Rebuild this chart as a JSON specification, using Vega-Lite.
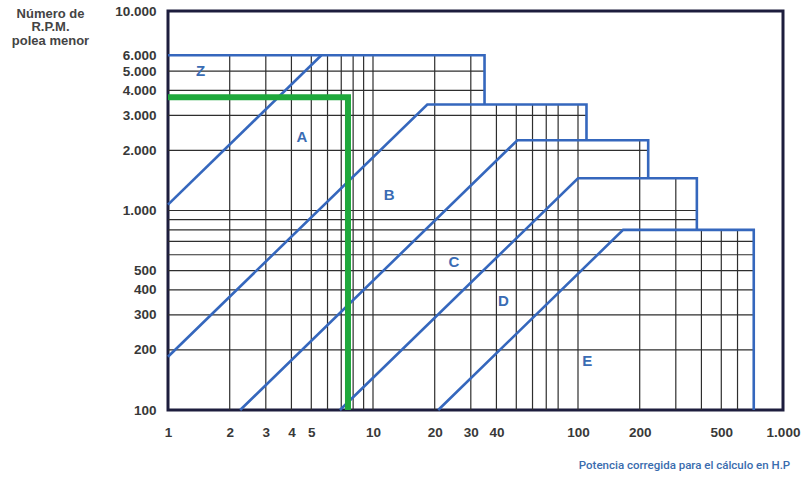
{
  "$schema": "https://vega.github.io/schema/vega-lite/v6.json",
  "width": 615,
  "height": 399,
  "autosize": {"type": "none"},
  "padding": {"left": 168, "top": 11, "right": 23, "bottom": 67},
  "background": "white",
  "config": {
    "view": {"stroke": "#1d1d3d", "strokeWidth": 3},
    "axis": {
      "domain": false,
      "ticks": false,
      "grid": false,
      "labelFont": "Liberation Sans",
      "labelFontWeight": "bold",
      "labelFontSize": 13.5,
      "labelColor": "#383838",
      "labelExpr": "replace(format(datum.value, ','), ',', '.')"
    }
  },
  "datasets": {
    "grid": [
      {"x": 2, "x2": 2, "y": 100, "y2": 6000},
      {"x": 3, "x2": 3, "y": 100, "y2": 6000},
      {"x": 4, "x2": 4, "y": 100, "y2": 6000},
      {"x": 5, "x2": 5, "y": 100, "y2": 6000},
      {"x": 6, "x2": 6, "y": 100, "y2": 6000},
      {"x": 7, "x2": 7, "y": 100, "y2": 6000},
      {"x": 8, "x2": 8, "y": 100, "y2": 6000},
      {"x": 9, "x2": 9, "y": 100, "y2": 6000},
      {"x": 10, "x2": 10, "y": 100, "y2": 6000},
      {"x": 20, "x2": 20, "y": 100, "y2": 6000},
      {"x": 30, "x2": 30, "y": 100, "y2": 6000},
      {"x": 40, "x2": 40, "y": 100, "y2": 3400},
      {"x": 50, "x2": 50, "y": 100, "y2": 3400},
      {"x": 60, "x2": 60, "y": 100, "y2": 3400},
      {"x": 70, "x2": 70, "y": 100, "y2": 3400},
      {"x": 80, "x2": 80, "y": 100, "y2": 3400},
      {"x": 100, "x2": 100, "y": 100, "y2": 3400},
      {"x": 200, "x2": 200, "y": 100, "y2": 2250},
      {"x": 300, "x2": 300, "y": 100, "y2": 1450},
      {"x": 400, "x2": 400, "y": 100, "y2": 800},
      {"x": 500, "x2": 500, "y": 100, "y2": 800},
      {"x": 600, "x2": 600, "y": 100, "y2": 800},
      {"x": 1, "x2": 35, "y": 5000, "y2": 5000},
      {"x": 1, "x2": 35, "y": 4000, "y2": 4000},
      {"x": 1, "x2": 110, "y": 3000, "y2": 3000},
      {"x": 1, "x2": 220, "y": 2000, "y2": 2000},
      {"x": 1, "x2": 380, "y": 1000, "y2": 1000},
      {"x": 1, "x2": 380, "y": 900, "y2": 900},
      {"x": 1, "x2": 720, "y": 800, "y2": 800},
      {"x": 1, "x2": 720, "y": 700, "y2": 700},
      {"x": 1, "x2": 720, "y": 600, "y2": 600},
      {"x": 1, "x2": 720, "y": 500, "y2": 500},
      {"x": 1, "x2": 720, "y": 400, "y2": 400},
      {"x": 1, "x2": 720, "y": 300, "y2": 300},
      {"x": 1, "x2": 720, "y": 200, "y2": 200}
    ],
    "bounds": [
      {"seg": "top", "o": 1, "x": 1, "y": 6000},
      {"seg": "top", "o": 2, "x": 35, "y": 6000},
      {"seg": "top", "o": 3, "x": 35, "y": 3400},
      {"seg": "za", "o": 1, "x": 1, "y": 1070},
      {"seg": "za", "o": 2, "x": 5.6, "y": 6000},
      {"seg": "ab", "o": 1, "x": 1, "y": 185},
      {"seg": "ab", "o": 2, "x": 18.4, "y": 3400},
      {"seg": "ab", "o": 3, "x": 110, "y": 3400},
      {"seg": "ab", "o": 4, "x": 110, "y": 2250},
      {"seg": "bc", "o": 1, "x": 2.25, "y": 100},
      {"seg": "bc", "o": 2, "x": 50.6, "y": 2250},
      {"seg": "bc", "o": 3, "x": 220, "y": 2250},
      {"seg": "bc", "o": 4, "x": 220, "y": 1450},
      {"seg": "cd", "o": 1, "x": 6.9, "y": 100},
      {"seg": "cd", "o": 2, "x": 100, "y": 1450},
      {"seg": "cd", "o": 3, "x": 380, "y": 1450},
      {"seg": "cd", "o": 4, "x": 380, "y": 800},
      {"seg": "de", "o": 1, "x": 20.8, "y": 100},
      {"seg": "de", "o": 2, "x": 166, "y": 800},
      {"seg": "de", "o": 3, "x": 720, "y": 800},
      {"seg": "de", "o": 4, "x": 720, "y": 100}
    ],
    "reading": [
      {"o": 1, "x": 1, "y": 3700},
      {"o": 2, "x": 7.55, "y": 3700},
      {"o": 3, "x": 7.55, "y": 100}
    ],
    "sections": [
      {"label": "Z", "x": 1.44, "y": 5000},
      {"label": "A", "x": 4.5, "y": 2340},
      {"label": "B", "x": 12, "y": 1190},
      {"label": "C", "x": 24.8, "y": 553},
      {"label": "D", "x": 43.3, "y": 350},
      {"label": "E", "x": 111, "y": 177}
    ]
  },
  "encoding": {
    "x": {
      "field": "x",
      "type": "quantitative",
      "scale": {"type": "log", "domain": [1, 1000], "nice": false},
      "axis": {
        "values": [1, 2, 3, 4, 5, 10, 20, 30, 40, 100, 200, 500, 1000],
        "labelPadding": 15,
        "labelFlush": false,
        "labelOverlap": false,
        "title": "Potencia corregida para el cálculo en H.P",
        "titleFont": "Roboto",
        "titleFontSize": 11.5,
        "titleFontWeight": 500,
        "titleColor": "#3a6cae",
        "titleX": 516,
        "titleY": 55,
        "titleAlign": "center",
        "titleBaseline": "middle",
        "titleAnchor": null
      }
    },
    "y": {
      "field": "y",
      "type": "quantitative",
      "scale": {"type": "log", "domain": [100, 10000], "nice": false},
      "axis": {
        "values": [100, 200, 300, 400, 500, 1000, 2000, 3000, 4000, 5000, 6000, 10000],
        "labelPadding": 12,
        "labelFlush": false,
        "labelOverlap": false,
        "title": ["Número de", "R.P.M.", "polea menor"],
        "titleFont": "Liberation Sans",
        "titleFontSize": 13,
        "titleFontWeight": "bold",
        "titleColor": "#444444",
        "titleLineHeight": 13.5,
        "titleAngle": 0,
        "titleX": -118,
        "titleY": -4,
        "titleAlign": "center",
        "titleBaseline": "top",
        "titleAnchor": null
      }
    }
  },
  "layer": [
    {
      "data": {"name": "grid"},
      "mark": {"type": "rule", "color": "#2e2e2e", "strokeWidth": 1.2},
      "encoding": {
        "x2": {"field": "x2"},
        "y2": {"field": "y2"}
      }
    },
    {
      "data": {"name": "bounds"},
      "mark": {"type": "line", "color": "#3567bd", "strokeWidth": 2.6, "strokeJoin": "miter"},
      "encoding": {
        "detail": {"field": "seg"},
        "order": {"field": "o", "type": "quantitative"}
      }
    },
    {
      "data": {"name": "reading"},
      "mark": {"type": "line", "color": "#1fa83c", "strokeWidth": 6, "strokeJoin": "miter"},
      "encoding": {
        "order": {"field": "o", "type": "quantitative"}
      }
    },
    {
      "data": {"name": "sections"},
      "mark": {"type": "text", "color": "#3a6cb4", "font": "Liberation Sans", "fontWeight": "bold", "fontSize": 15, "align": "center", "baseline": "middle"},
      "encoding": {
        "text": {"field": "label"}
      }
    }
  ]
}
